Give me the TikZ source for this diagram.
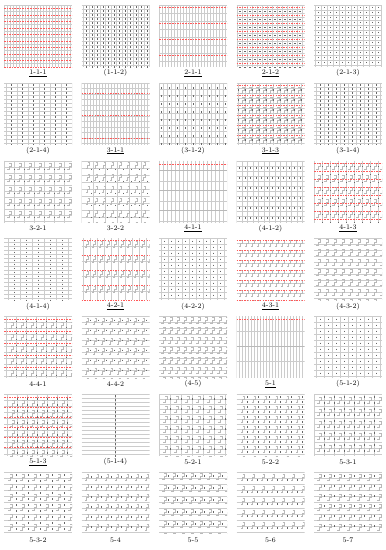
\documentclass[tikz,border=0pt]{standalone}
\begin{document}
\tikzset{
 gl/.style={draw=gray!40,line width=.18pt},
 gd/.style={draw=gray!55,line width=.22pt},
 tk/.style={draw=black!60,line width=.33pt},
 rd/.style={draw=red!65,line width=.5pt},
 lab/.style={font=\fontsize{7}{8}\selectfont,inner sep=0pt}
}
\newcommand\PVL[2][gl]{\foreach \i in {#2}{\draw[#1] (\i,0)--(\i,62);}}
\newcommand\PHL[2][gl]{\foreach \j in {#2}{\draw[#1] (0,\j)--(68,\j);}}
\newcommand\PRD[1]{\foreach \j in {#1}{\draw[rd] \foreach \x in {0,2.6,...,68}{(\x,\j)--++(1.5,0)};}}
\newcommand\PTV[3][tk]{\foreach \i in {#2}{\foreach \j in {#3}{\draw[#1] (\i,\j-.7)--(\i,\j+.7);}}}
\newcommand\PTH[3][tk]{\foreach \i in {#2}{\foreach \j in {#3}{\draw[#1] (\i-.8,\j)--(\i+.8,\j);}}}
\newcommand\PSS[3][gd]{\foreach \i in {#2}{\foreach \j in {#3}{\draw[#1] (\i,\j)--++(2,0)--++(0,3)--++(-2,0)--++(0,3)--++(-2,0);}}}
\newcommand\mypanel[4]{%
 \begin{scope}[shift={({4+77.5*#1},{5+77.8*#2})}]
  \clip (0,0) rectangle (68,62);
  #4
 \end{scope}
 \node[lab] (l#1#2) at ({38+77.5*#1},{73+77.8*#2}) {#3};}
\begin{tikzpicture}[x=1pt,y=-1pt]
\useasboundingbox[fill=white] (0,0) rectangle (386,550);
% row 1
\mypanel{0}{0}{\underline{1-1-1}}{\PVL{0,3,...,68}\PHL{0,6.5,...,62}\PRD{3.25,9.75,...,62}}
\mypanel{1}{0}{(1-1-2)}{\PVL{2,7.5,...,68}\PHL{0,4,...,62}\PTV{4.75,10.25,...,68}{2,6,...,62}}
\mypanel{2}{0}{\underline{2-1-1}}{\PVL{0,3,...,68}\PHL{0,8,...,62}\PRD{2.5,18.5,...,62}}
\mypanel{3}{0}{\underline{2-1-2}}{\PVL{1,6,...,68}\PHL{0,4,...,62}\PRD{2.5,10.5,...,62}\PTH{3.5,8.5,...,68}{6,14,...,62}}
\mypanel{4}{0}{(2-1-3)}{\PVL{1,7,...,68}\PHL{0,5,...,62}\PTV{4,10,...,68}{2.5,7.5,...,62}}
% row 2
\mypanel{0}{1}{(2-1-4)}{\PVL{2,13,...,68}\PHL{0,4,...,62}\PTV{7.5,18.5,...,68}{2,6,...,62}}
\mypanel{1}{1}{\underline{3-1-1}}{\PVL{0,3,...,68}\PHL{0,5.5,...,62}\PRD{10.5,32.5,55.5}}
\mypanel{2}{1}{(3-1-2)}{\PVL{0,4,...,68}\PHL{0,6,...,62}\PTV{2,10,...,68}{5,13,...,62}}
\mypanel{3}{1}{\underline{3-1-3}}{\PVL{2,9,...,68}\PHL{0,5,...,62}\PSS{5.5,12.5,...,68}{4,14,...,62}\PTV{2,9,...,68}{7,17,...,62}\PRD{2.5,12.5,...,62}}
\mypanel{4}{1}{(3-1-4)}{\PVL{2,10,...,68}\PHL{0,4,...,62}\PTV{6,14,...,68}{2,6,...,62}}
% row 3
\mypanel{0}{2}{3-2-1}{\PHL{0,6,...,62}\PVL{0,10,...,68}\PSS{5,15,...,68}{3,15,...,62}\PTV{10,20,...,68}{9,21,...,62}}
\mypanel{1}{2}{3-2-2}{\PHL{0,7,...,62}\PVL{0,12,...,68}\PSS{6,14,...,68}{2,14,...,62}\PTV{10,18,...,68}{9,21,...,62}}
\mypanel{2}{2}{\underline{4-1-1}}{\PVL{0,4,...,68}\PRD{3.5}\PHL[gd]{10,30,50}\PHL{20,40,60}}
\mypanel{3}{2}{(4-1-2)}{\PVL{0,5.5,...,68}\PHL{0,5,...,62}\PTV{2.75,8.25,...,68}{7.5,17.5,...,62}}
\mypanel{4}{2}{\underline{4-1-3}}{\PVL{0,8,...,68}\PSS{4,12,...,68}{3,15,...,62}\PTV{8,16,...,68}{6,14,...,62}\PRD{2.5,10.5,...,62}}
% row 4
\mypanel{0}{3}{(4-1-4)}{\PVL{4,16,...,68}\PHL{0,4,...,62}\PTV{10,22,...,68}{2,6,...,62}}
\mypanel{1}{3}{\underline{4-2-1}}{\PHL{8,23,...,62}\PSS{5,12,...,68}{3,18,...,62}\PVL{2,9,...,68}\PRD{1.5,16.5,...,62}}
\mypanel{2}{3}{(4-2-2)}{\PVL{2,9,...,68}\PHL{0,6,...,62}\PTV{5.5,12.5,...,68}{3,9,...,62}}
\mypanel{3}{3}{\underline{4-3-1}}{\PHL{5,15,...,62}\PSS{4,10,...,68}{2,12,...,62}\PRD{1.5,11.5,...,62}}
\mypanel{4}{3}{(4-3-2)}{\PHL{0,6,...,62}\PSS{4,12,...,68}{1,11,...,62}}
% row 5
\mypanel{0}{4}{4-4-1}{\PVL{2,12,...,68}\PHL{0,6,...,62}\PSS{7,17,...,68}{6,18,...,62}\PTV{12,22,...,68}{5,11,...,62}\PRD{3.5,15.5,...,62}}
\mypanel{1}{4}{4-4-2}{\PHL{0,6,...,62}\PSS{5,13,...,68}{2,12,...,62}\PTV{9,17,...,68}{4,14,...,62}}
\mypanel{2}{4}{(4-5)}{\PHL{0,6,...,62}\PSS{4,11,...,68}{1,11,...,62}}
\mypanel{3}{4}{\underline{5-1}}{\PVL{0,3,...,68}\PRD{3.5}\PHL[gd]{30}\PHL{15,45}}
\mypanel{4}{4}{(5-1-2)}{\PVL{2,10,...,68}\PHL{0,6,...,62}\PTV{6,14,...,68}{3,9,...,62}}
% row 6
\mypanel{0}{5}{\underline{5-1-3}}{\PVL{3,13,...,68}\PHL{0,6,...,62}\PSS{8,18,...,68}{6,16,...,62}\PTV{13,23,...,68}{5,11,...,62}\PRD{3.5,13.5,...,62}}
\mypanel{1}{5}{(5-1-4)}{\PHL{0,4,...,62}\PVL{34}\PTV{34}{2,6,...,62}}
\mypanel{2}{5}{5-2-1}{\PHL{0,5,...,62}\PVL{0,11,...,68}\PSS{6,17,...,68}{2,12,...,62}\PTV{11,22,...,68}{5,15,...,62}}
\mypanel{3}{5}{5-2-2}{\PHL{0,5,...,62}\PSS{6,17,...,68}{2,12,...,62}\PTV{11,22,...,68}{3,8,...,62}}
\mypanel{4}{5}{5-3-1}{\PHL{0,6,...,62}\PVL{0,10,...,68}\PSS{5,15,...,68}{3,15,...,62}\PTV{10,20,...,68}{3,9,...,62}}
% row 7
\mypanel{0}{6}{5-3-2}{\PHL{0,6,...,62}\PSS{6,18,...,68}{2,12,...,62}\PTV{12,24,...,68}{3,9,...,62}}
\mypanel{1}{6}{5-4}{\PHL{0,6,...,62}\PSS{5,15,...,68}{2,12,...,62}\PTV{10,20,...,68}{5,15,...,62}}
\mypanel{2}{6}{5-5}{\PHL{0,6,...,62}\PSS{5,14,...,68}{1,13,...,62}\PTV{9.5,18.5,...,68}{4,16,...,62}}
\mypanel{3}{6}{5-6}{\PHL{0,6,...,62}\PSS{6,16,...,68}{2,14,...,62}\PTV{11,21,...,68}{8,20,...,62}}
\mypanel{4}{6}{5-7}{\PHL{0,6,...,62}\PSS{5,15,...,68}{2,12,...,62}\PTV{10,20,...,68}{4,14,...,62}}
\end{tikzpicture}
\end{document}
